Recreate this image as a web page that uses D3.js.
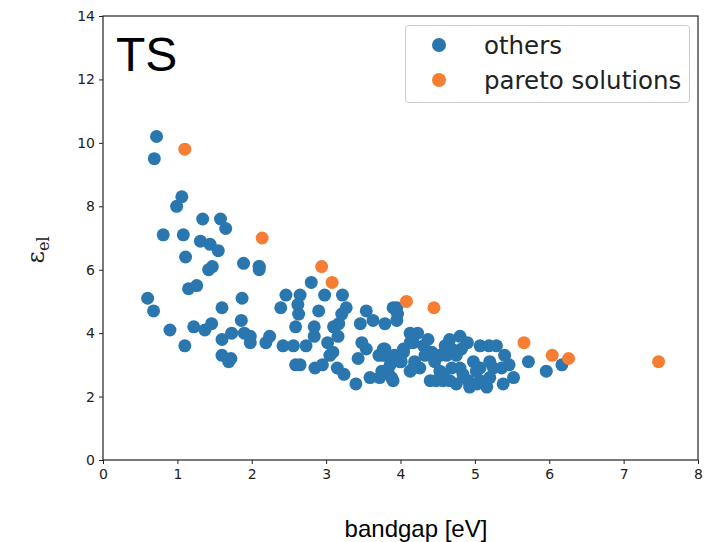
<!DOCTYPE html>
<html>
<head>
<meta charset="utf-8">
<script src="https://cdn.jsdelivr.net/npm/d3@7"></script>
<style>
  body { margin: 0; background: #fff; }
  svg text { fill: #222; }
</style>
</head>
<body>
<svg id="chart" width="716" height="542"></svg>
<script>
// bandgap [eV] vs dielectric constant, all screened candidates
const othersX = [0.72, 0.69, 1.06, 0.99, 1.34, 1.58, 1.65, 0.81, 1.08, 1.31, 1.44, 1.55, 1.11, 1.89, 2.10, 1.47, 1.42,
  2.10, 2.10, 1.26, 1.15, 0.60, 1.87, 2.46, 2.65, 0.68, 1.60, 2.39, 2.62, 2.63, 1.86, 1.46, 1.37, 0.90, 1.22,
  1.73, 1.90, 1.98, 2.24, 2.19, 1.98, 1.60, 2.59, 2.42, 2.56, 1.10, 1.60, 1.72, 1.69, 2.59,
  2.80, 2.98, 3.22, 2.90, 3.27, 3.21, 3.17, 3.54, 3.46, 3.63, 3.79, 3.95, 3.95, 2.84, 3.10, 2.84, 3.16,
  3.02, 2.73, 3.09, 3.05, 3.48, 3.54, 3.43, 2.65, 2.85, 2.95, 3.15, 3.24, 3.40, 3.59, 3.72, 3.77, 3.71,
  3.83, 3.88, 4.13, 4.17, 4.04, 4.01, 3.90, 3.96, 4.23, 4.37, 4.66, 4.80, 4.90, 5.07, 5.19, 5.29, 5.40,
  5.72, 5.96, 6.17, 5.46, 5.52, 5.36, 5.38, 5.16, 5.20, 5.20, 5.25, 5.02, 4.98, 5.07, 4.91, 4.80, 4.75,
  4.82, 4.69, 4.62, 4.69, 4.53, 4.66, 4.40, 4.48, 4.57, 4.53, 4.42, 4.31, 4.33, 4.19, 4.13, 4.17, 3.99,
  4.04, 4.13, 3.90, 3.75, 3.77, 3.79, 3.92, 3.86, 4.26, 4.46, 4.60, 4.84, 5.07, 4.75, 4.93, 4.57, 5.03];
const othersY = [10.2, 9.5, 8.3, 8.0, 7.6, 7.6, 7.3, 7.1, 7.1, 6.9, 6.8, 6.6, 6.4, 6.2, 6.1, 6.1, 6.0,
  6.1, 6.0, 5.5, 5.4, 5.1, 5.1, 5.2, 5.2, 4.7, 4.8, 4.8, 4.9, 4.6, 4.4, 4.3, 4.1, 4.1, 4.2,
  4.0, 4.0, 3.9, 3.9, 3.7, 3.7, 3.8, 4.2, 3.6, 3.6, 3.6, 3.3, 3.2, 3.1, 3.0,
  5.6, 5.2, 5.2, 4.7, 4.8, 4.6, 4.3, 4.7, 4.3, 4.4, 4.3, 4.8, 4.4, 4.2, 4.2, 3.9, 3.9,
  3.7, 3.6, 3.4, 3.3, 3.7, 3.5, 3.2, 3.0, 2.9, 3.0, 2.9, 2.7, 2.4, 2.6, 2.6, 3.5, 3.3,
  2.8, 2.6, 4.0, 3.7, 3.5, 3.1, 4.8, 4.6, 4.0, 3.8, 3.8, 3.9, 3.7, 3.6, 3.6, 3.6, 3.3,
  3.1, 2.8, 3.0, 3.0, 2.6, 2.9, 2.4, 2.3, 2.6, 3.1, 2.9, 2.8, 3.1, 2.9, 2.5, 2.9, 3.3,
  3.5, 3.5, 3.3, 2.9, 2.8, 2.5, 2.5, 2.5, 2.5, 3.3, 3.4, 3.6, 3.3, 3.1, 2.8, 2.9, 3.1,
  3.4, 3.7, 2.5, 2.8, 3.3, 3.5, 3.3, 3.0, 2.9, 3.1, 3.6, 2.7, 2.5, 2.4, 2.3, 2.7, 2.4];

// non-dominated candidates
const paretoX = [1.10, 2.14, 2.94, 3.08, 4.08, 4.45, 5.66, 6.04, 6.26, 7.47];
const paretoY = [9.8, 7.0, 6.1, 5.6, 5.0, 4.8, 3.7, 3.3, 3.2, 3.1];

const xTicks = [0, 1, 2, 3, 4, 5, 6, 7, 8];
const yTicks = [0, 2, 4, 6, 8, 10, 12, 14];

const blue = '#2a77b0', orange = '#f57e33';
const margin = {left: 103, right: 18, top: 16, bottom: 82};
const width = 716, height = 542;

const svg = d3.select('#chart');

const x = d3.scaleLinear().domain([0, 8]).range([margin.left, width - margin.right]);
const y = d3.scaleLinear().domain([0, 14]).range([height - margin.bottom, margin.top]);

const xAxis = svg.append('g')
  .attr('transform', `translate(0,${height - margin.bottom})`)
  .call(d3.axisBottom(x).tickValues(xTicks).tickSizeOuter(0).tickSize(4).tickPadding(5));
const yAxis = svg.append('g')
  .attr('transform', `translate(${margin.left},0)`)
  .call(d3.axisLeft(y).tickValues(yTicks).tickSizeOuter(0).tickSize(4).tickPadding(4));

[xAxis, yAxis].forEach(g => {
  g.selectAll('text').attr('font-family', 'DejaVu Sans').attr('font-size', 14).attr('fill', '#222');
  g.selectAll('line').attr('stroke', '#222');
  g.select('.domain').remove();
});

// frame around the plotting area
svg.append('rect')
  .attr('x', x(0)).attr('y', y(14))
  .attr('width', x(8) - x(0)).attr('height', y(0) - y(14))
  .attr('fill', 'none').attr('stroke', '#222').attr('stroke-width', 1.2);

svg.append('g').selectAll('circle')
  .data(d3.zip(othersX, othersY))
  .join('circle')
  .attr('cx', d => x(d[0]))
  .attr('cy', d => y(d[1]))
  .attr('r', 6.5)
  .attr('fill', blue);

svg.append('g').selectAll('circle')
  .data(d3.zip(paretoX, paretoY))
  .join('circle')
  .attr('cx', d => x(d[0]))
  .attr('cy', d => y(d[1]))
  .attr('r', 6.5)
  .attr('fill', orange);

svg.append('text')
  .attr('x', 116).attr('y', 71)
  .attr('font-family', 'Liberation Sans').attr('font-size', 48)
  .style('fill', '#000')
  .text('TS');

// legend
const legend = svg.append('g');
legend.append('rect')
  .attr('x', 405.5).attr('y', 25.5).attr('width', 284).attr('height', 77).attr('rx', 3)
  .attr('fill', '#fff').attr('fill-opacity', 0.85).attr('stroke', '#ccc');
[['others', blue], ['pareto solutions', orange]].forEach(([label, c], i) => {
  legend.append('circle').attr('cx', 439).attr('cy', 45 + i * 35).attr('r', 7).attr('fill', c);
  legend.append('text').attr('x', 484).attr('y', 45 + i * 35).attr('dy', '0.35em')
    .attr('font-family', 'DejaVu Sans').attr('font-size', 24.5).text(label);
});

svg.append('text')
  .attr('x', 416).attr('y', 537)
  .attr('text-anchor', 'middle')
  .attr('font-family', 'Liberation Sans').attr('font-size', 24)
  .style('fill', '#000')
  .text('bandgap [eV]');

const yLabel = svg.append('text')
  .attr('transform', `translate(44,250) rotate(-90)`)
  .attr('text-anchor', 'middle')
  .attr('font-family', 'DejaVu Serif').attr('font-size', 24);
yLabel.append('tspan').text('ε');
yLabel.append('tspan').attr('font-size', 16).attr('dy', 5).text('el');
</script>
</body>
</html>
